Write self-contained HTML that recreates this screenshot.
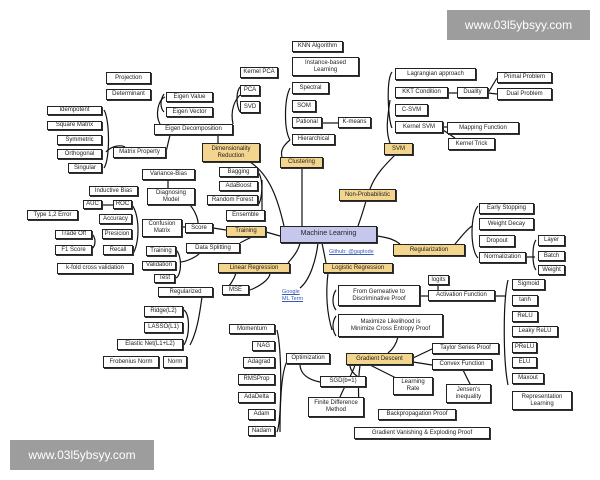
<!DOCTYPE html>
<html><head><meta charset="utf-8"><style>
html,body{margin:0;padding:0;background:#fff;}
#c{position:relative;width:600px;height:480px;overflow:hidden;background:#fff;font-family:"Liberation Sans",sans-serif;}
.b{position:absolute;box-sizing:border-box;border:1px solid #222;box-shadow:1px 1px 0 #333;background:#fff;font-size:6px;line-height:1.15;color:#222;display:flex;align-items:center;justify-content:center;text-align:center;white-space:nowrap;}
.y{background:#f3d58e;}
.m{background:#c5c8ec;font-size:7px;}
.t{position:absolute;font-size:5.5px;color:#3a5bb5;text-decoration:underline;line-height:1.2;}
.w{position:absolute;background:#9d9d9d;color:#fff;font-size:12px;display:flex;align-items:center;justify-content:center;}
svg{position:absolute;left:0;top:0;}
</style></head><body><div id="c">
<svg width="600" height="480" fill="none" stroke="#111" stroke-width="1.2">
<!-- ML center links -->
<path d="M302 168 L302 226"/>
<path d="M250 162 C270 175 278 200 284 226"/>
<path d="M358 226 C362 215 364 208 366 201"/>
<path d="M370 189 C375 175 385 165 395 155"/>
<path d="M390 143 C385 130 388 115 390 100"/>
<path d="M392 72 C386 80 388 120 392 128"/>
<path d="M280 236 L266 232"/>
<path d="M377 236 C390 238 395 240 400 244"/>
<path d="M455 244 C462 236 466 230 472 226"/>
<path d="M478 206 C470 215 470 250 478 258"/>
<path d="M300 243 C298 252 292 258 288 263"/>
<path d="M318 243 C316 260 310 280 300 288"/>
<path d="M322 243 L326 263"/>
<path d="M328 273 C326 290 326 310 332 330"/>
<path d="M336 290 C332 296 332 305 336 310"/>
<path d="M336 316 C332 322 332 330 336 336"/>
<path d="M398 337 C396 345 392 350 388 353"/>
<path d="M420 296 L428 296"/><path d="M438 285 L438 290"/>
<path d="M495 296 L505 296"/>
<path d="M508 280 C503 300 503 360 508 385"/>
<path d="M413 358 L432 349"/><path d="M413 362 L432 365"/>
<path d="M463 370 L470 384"/>
<path d="M370 365 L396 378"/>
<path d="M355 365 C352 375 345 385 340 397"/>
<path d="M360 365 C358 380 358 400 360 409"/>
<path d="M350 365 C350 375 365 380 366 382"/>
<path d="M300 364 C300 375 310 380 320 382"/>
<path d="M288 360 C280 370 280 420 280 432"/>
<path d="M277 330 C282 350 282 420 277 432"/>
<!-- clustering -->
<path d="M290 88 C284 100 284 130 290 140"/>
<path d="M282 157 C280 150 284 145 290 140"/>
<path d="M322 123 L338 123"/>
<!-- SVM stuff -->
<path d="M488 93 L497 78"/><path d="M488 93 L497 94"/><path d="M448 93 L457 93"/>
<path d="M443 127 L447 127"/><path d="M443 130 L455 138"/>
<!-- reg -->
<path d="M526 257 L535 257"/><path d="M536 240 C532 245 532 265 536 270"/>
<!-- Dim reduction -->
<path d="M218 143 L218 135"/>
<path d="M233 124 C230 110 235 100 240 95"/>
<path d="M240 87 C236 92 236 105 240 112"/>
<path d="M160 124 C155 115 158 100 165 97"/>
<path d="M164 94 C160 100 160 108 164 112"/>
<path d="M104 110 C110 120 110 160 104 168"/>
<path d="M106 152 C112 145 122 145 125 147"/>
<path d="M166 152 L170 135"/>
<!-- training -->
<path d="M213 228 L226 230"/>
<path d="M182 227 L185 227"/>
<path d="M168 180 L168 188"/>
<path d="M190 205 C196 212 198 220 198 223"/>
<path d="M258 172 C264 180 262 200 258 205"/>
<path d="M262 180 L262 210"/>
<path d="M240 243 C245 240 250 238 252 237"/>
<path d="M102 205 L113 205"/>
<path d="M132 205 C140 215 140 245 132 255"/>
<path d="M92 234 C96 238 96 245 92 249"/>
<path d="M248 232 L246 237"/>
<path d="M176 250 C182 255 182 275 176 278"/>
<path d="M200 253 C195 258 185 262 180 262"/>
<!-- linear -->
<path d="M236 273 C234 280 230 285 224 292"/>
<path d="M270 273 C270 280 258 287 250 290"/>
<path d="M202 297 C200 310 198 330 190 345"/>
<path d="M184 310 C190 315 190 335 184 345"/>
</svg>

<div class="w" style="left:447px;top:10px;width:143px;height:30px;">www.03l5ybsyy.com</div>
<div class="w" style="left:10px;top:440px;width:144px;height:30px;">www.03l5ybsyy.com</div>

<div class="b m" style="left:280px;top:226px;width:97px;height:17px;">Machine Learning</div>
<div class="t" style="left:329px;top:249px;">Github: @gaptode</div>
<div class="t" style="left:282px;top:289px;">Google<br>ML Term</div>

<div class="b" style="left:106px;top:72px;width:45px;height:12px;">Projection</div>
<div class="b" style="left:106px;top:89px;width:45px;height:11px;">Determinant</div>
<div class="b" style="left:166px;top:92px;width:47px;height:10px;">Eigen Value</div>
<div class="b" style="left:166px;top:107px;width:47px;height:10px;">Eigen Vector</div>
<div class="b" style="left:240px;top:67px;width:38px;height:11px;">Kernel PCA</div>
<div class="b" style="left:240px;top:85px;width:20px;height:11px;">PCA</div>
<div class="b" style="left:240px;top:101px;width:20px;height:12px;">SVD</div>
<div class="b" style="left:154px;top:124px;width:79px;height:11px;">Eigen Decomposition</div>
<div class="b" style="left:47px;top:106px;width:55px;height:9px;">Idempotent</div>
<div class="b" style="left:47px;top:121px;width:55px;height:9px;">Square Matrix</div>
<div class="b" style="left:57px;top:135px;width:45px;height:10px;">Symmetric</div>
<div class="b" style="left:57px;top:149px;width:45px;height:10px;">Orthogonal</div>
<div class="b" style="left:68px;top:163px;width:34px;height:10px;">Singular</div>
<div class="b" style="left:113px;top:147px;width:53px;height:11px;">Matrix Property</div>
<div class="b y" style="left:202px;top:143px;width:58px;height:19px;">Dimensionality<br>Reduction</div>
<div class="b" style="left:142px;top:169px;width:53px;height:11px;">Variance-Bias</div>
<div class="b" style="left:147px;top:188px;width:48px;height:17px;">Diagnosing<br>Model</div>
<div class="b" style="left:219px;top:167px;width:39px;height:10px;">Bagging</div>
<div class="b" style="left:219px;top:181px;width:39px;height:10px;">AdaBoost</div>
<div class="b" style="left:207px;top:195px;width:51px;height:10px;">Random Forest</div>
<div class="b" style="left:226px;top:210px;width:39px;height:11px;">Ensemble</div>
<div class="b" style="left:89px;top:186px;width:49px;height:10px;">Inductive Bias</div>
<div class="b" style="left:83px;top:200px;width:19px;height:9px;">AUC</div>
<div class="b" style="left:113px;top:200px;width:19px;height:9px;">ROC</div>
<div class="b" style="left:27px;top:210px;width:51px;height:10px;">Type 1,2 Error</div>
<div class="b" style="left:99px;top:214px;width:33px;height:10px;">Accuracy</div>
<div class="b" style="left:142px;top:219px;width:40px;height:18px;">Confusion<br>Matrix</div>
<div class="b" style="left:185px;top:223px;width:28px;height:10px;">Score</div>
<div class="b y" style="left:226px;top:226px;width:40px;height:11px;">Training</div>
<div class="b" style="left:55px;top:230px;width:37px;height:9px;">Trade Off</div>
<div class="b" style="left:102px;top:229px;width:30px;height:10px;">Presicion</div>
<div class="b" style="left:55px;top:245px;width:37px;height:10px;">F1 Score</div>
<div class="b" style="left:103px;top:245px;width:30px;height:10px;">Recall</div>
<div class="b" style="left:57px;top:263px;width:76px;height:11px;">k-fold cross validation</div>
<div class="b" style="left:146px;top:246px;width:30px;height:10px;">Training</div>
<div class="b" style="left:142px;top:261px;width:34px;height:9px;">Validation</div>
<div class="b" style="left:154px;top:274px;width:21px;height:9px;">Test</div>
<div class="b" style="left:186px;top:243px;width:54px;height:10px;">Data Splitting</div>
<div class="b y" style="left:218px;top:263px;width:72px;height:10px;">Linear Regression</div>
<div class="b" style="left:222px;top:285px;width:27px;height:10px;">MSE</div>
<div class="b" style="left:158px;top:287px;width:55px;height:10px;">Regularized</div>
<div class="b" style="left:144px;top:306px;width:39px;height:11px;">Ridge(L2)</div>
<div class="b" style="left:144px;top:322px;width:39px;height:11px;">LASSO(L1)</div>
<div class="b" style="left:117px;top:339px;width:66px;height:11px;">Elastic Net(L1+L2)</div>
<div class="b" style="left:103px;top:356px;width:56px;height:12px;">Frobenius Norm</div>
<div class="b" style="left:163px;top:356px;width:24px;height:12px;">Norm</div>
<div class="b" style="left:229px;top:324px;width:46px;height:10px;">Momentum</div>
<div class="b" style="left:252px;top:341px;width:23px;height:10px;">NAG</div>
<div class="b" style="left:243px;top:357px;width:32px;height:11px;">Adagrad</div>
<div class="b" style="left:238px;top:374px;width:37px;height:11px;">RMSProp</div>
<div class="b" style="left:238px;top:392px;width:37px;height:11px;">AdaDelta</div>
<div class="b" style="left:248px;top:409px;width:27px;height:11px;">Adam</div>
<div class="b" style="left:248px;top:426px;width:27px;height:10px;">Nadam</div>
<div class="b" style="left:286px;top:353px;width:44px;height:11px;">Optimization</div>

<div class="b" style="left:292px;top:41px;width:51px;height:11px;">KNN Algorithm</div>
<div class="b" style="left:292px;top:57px;width:67px;height:19px;">Instance-based<br>Learning</div>
<div class="b" style="left:292px;top:82px;width:37px;height:12px;">Spectral</div>
<div class="b" style="left:292px;top:100px;width:24px;height:12px;">SOM</div>
<div class="b" style="left:292px;top:117px;width:30px;height:11px;">Pational</div>
<div class="b" style="left:338px;top:117px;width:33px;height:11px;">K-means</div>
<div class="b" style="left:292px;top:134px;width:43px;height:11px;">Hierarchical</div>
<div class="b y" style="left:280px;top:157px;width:43px;height:11px;">Clustering</div>
<div class="b" style="left:395px;top:68px;width:81px;height:12px;">Lagrangian approach</div>
<div class="b" style="left:395px;top:87px;width:53px;height:11px;">KKT Condition</div>
<div class="b" style="left:457px;top:87px;width:31px;height:11px;">Duality</div>
<div class="b" style="left:497px;top:72px;width:55px;height:11px;">Primal Problem</div>
<div class="b" style="left:497px;top:88px;width:55px;height:12px;">Dual Problem</div>
<div class="b" style="left:395px;top:104px;width:33px;height:12px;">C-SVM</div>
<div class="b" style="left:395px;top:121px;width:48px;height:12px;">Kernel SVM</div>
<div class="b" style="left:447px;top:122px;width:72px;height:12px;">Mapping Function</div>
<div class="b" style="left:448px;top:138px;width:47px;height:12px;">Kernel Trick</div>
<div class="b y" style="left:384px;top:143px;width:29px;height:12px;">SVM</div>
<div class="b y" style="left:339px;top:189px;width:57px;height:12px;">Non-Probabilistic</div>
<div class="b" style="left:479px;top:203px;width:55px;height:11px;">Early Stopping</div>
<div class="b" style="left:479px;top:218px;width:55px;height:12px;">Weight Decay</div>
<div class="b" style="left:479px;top:235px;width:36px;height:12px;">Dropout</div>
<div class="b" style="left:538px;top:235px;width:27px;height:11px;">Layer</div>
<div class="b y" style="left:393px;top:244px;width:72px;height:12px;">Regularization</div>
<div class="b" style="left:479px;top:252px;width:47px;height:11px;">Normalization</div>
<div class="b" style="left:538px;top:251px;width:27px;height:10px;">Batch</div>
<div class="b" style="left:538px;top:265px;width:27px;height:10px;">Weight</div>
<div class="b y" style="left:323px;top:263px;width:70px;height:10px;">Logistic Regression</div>
<div class="b" style="left:428px;top:275px;width:21px;height:10px;">logits</div>
<div class="b" style="left:338px;top:285px;width:82px;height:21px;">From Gerneative to<br>Discriminative Proof</div>
<div class="b" style="left:428px;top:290px;width:67px;height:11px;">Activation Function</div>
<div class="b" style="left:338px;top:314px;width:105px;height:23px;">Maximize Likelihood is<br>Minimize Cross Entropy Proof</div>
<div class="b" style="left:512px;top:279px;width:33px;height:11px;">Sigmoid</div>
<div class="b" style="left:512px;top:295px;width:26px;height:11px;">tanh</div>
<div class="b" style="left:512px;top:311px;width:26px;height:11px;">ReLU</div>
<div class="b" style="left:512px;top:326px;width:46px;height:11px;">Leaky ReLU</div>
<div class="b" style="left:512px;top:342px;width:25px;height:11px;">PReLU</div>
<div class="b" style="left:512px;top:357px;width:25px;height:11px;">ELU</div>
<div class="b" style="left:512px;top:373px;width:32px;height:11px;">Maxout</div>
<div class="b" style="left:512px;top:391px;width:60px;height:19px;">Representation<br>Learning</div>
<div class="b" style="left:432px;top:343px;width:67px;height:11px;">Taylor Series Proof</div>
<div class="b y" style="left:346px;top:353px;width:67px;height:12px;">Gradient Descent</div>
<div class="b" style="left:432px;top:359px;width:60px;height:11px;">Convex Function</div>
<div class="b" style="left:320px;top:376px;width:46px;height:11px;">SGD(b=1)</div>
<div class="b" style="left:393px;top:377px;width:40px;height:18px;">Learning<br>Rate</div>
<div class="b" style="left:446px;top:384px;width:45px;height:19px;">Jensen's<br>inequality</div>
<div class="b" style="left:308px;top:397px;width:56px;height:20px;">Finite Difference<br>Method</div>
<div class="b" style="left:378px;top:409px;width:78px;height:11px;">Backpropagation Proof</div>
<div class="b" style="left:354px;top:427px;width:136px;height:12px;">Gradient Vanishing &amp; Exploding Proof</div>
</div></body></html>
